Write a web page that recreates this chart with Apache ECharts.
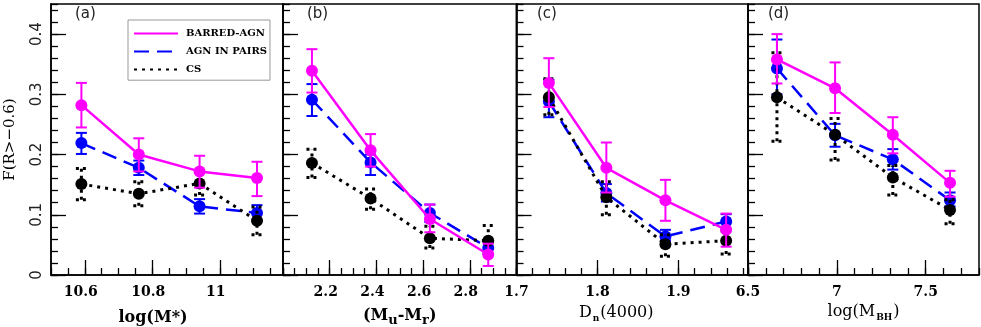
<!DOCTYPE html>
<html><head><meta charset="utf-8">
<script src="https://cdn.jsdelivr.net/npm/echarts@6/dist/echarts.min.js"></script>
<style>html,body{margin:0;padding:0;background:#fff}#c{width:981px;height:327px}</style>
</head><body><div id="c"></div>
<script>
// ---------- data ----------
const seriesNames = ['BARRED-AGN', 'AGN IN PAIRS', 'CS'];
const panelTags = ['(a)', '(b)', '(c)', '(d)'];
const yTickLabels = [0, 0.1, 0.2, 0.3, 0.4];

// (a) log(M*)
const xA = [10.59, 10.76, 10.94, 11.11];
const barredA = [0.282, 0.200, 0.172, 0.161];
const barredA_lo = [0.245, 0.172, 0.145, 0.131];
const barredA_hi = [0.319, 0.227, 0.198, 0.188];
const pairsA = [0.219, 0.178, 0.114, 0.103];
const pairsA_lo = [0.201, 0.166, 0.102, 0.090];
const pairsA_hi = [0.236, 0.190, 0.126, 0.116];
const csA = [0.151, 0.135, 0.152, 0.090];
const csA_lo = [0.125, 0.115, 0.133, 0.067];
const csA_hi = [0.177, 0.155, 0.172, 0.113];
const xTicksA = [10.6, 10.8, 11];

// (b) Mu-Mr
const xB = [2.124, 2.375, 2.629, 2.879];
const barredB = [0.339, 0.207, 0.093, 0.034];
const barredB_lo = [0.303, 0.180, 0.071, 0.015];
const barredB_hi = [0.375, 0.234, 0.117, 0.052];
const pairsB = [0.291, 0.187, 0.103, 0.045];
const pairsB_lo = [0.264, 0.166, 0.088, 0.035];
const pairsB_hi = [0.317, 0.200, 0.117, 0.055];
const csB = [0.186, 0.127, 0.061, 0.057];
const csB_lo = [0.162, 0.109, 0.045, 0.036];
const csB_hi = [0.209, 0.143, 0.081, 0.082];
const xTicksB = [2.2, 2.4, 2.6, 2.8];

// (c) Dn(4000)
const xC = [1.740, 1.811, 1.884, 1.959];
const barredC = [0.319, 0.178, 0.124, 0.075];
const barredC_lo = [0.279, 0.137, 0.090, 0.047];
const barredC_hi = [0.360, 0.220, 0.158, 0.102];
const pairsC = [0.288, 0.136, 0.064, 0.089];
const pairsC_lo = [0.262, 0.122, 0.057, 0.076];
const pairsC_hi = [0.324, 0.151, 0.075, 0.101];
const csC = [0.295, 0.129, 0.051, 0.057];
const csC_lo = [0.266, 0.100, 0.031, 0.035];
const csC_hi = [0.326, 0.155, 0.067, 0.073];
const xTicksC = [1.7, 1.8, 1.9];

// (d) log(MBH)
const xD = [6.663, 6.99, 7.315, 7.637];
const barredD = [0.358, 0.310, 0.233, 0.153];
const barredD_lo = [0.318, 0.269, 0.202, 0.130];
const barredD_hi = [0.400, 0.353, 0.262, 0.173];
const pairsD = [0.343, 0.232, 0.192, 0.124];
const pairsD_lo = [0.300, 0.213, 0.175, 0.114];
const pairsD_hi = [0.391, 0.251, 0.209, 0.137];
const csD = [0.295, 0.233, 0.162, 0.108];
const csD_lo = [0.222, 0.191, 0.133, 0.085];
const csD_hi = [0.369, 0.260, 0.182, 0.125];
const xTicksD = [6.5, 7, 7.5];

// ---------- layout / style ----------
const panels = [
  {x: xA, vals: [barredA, pairsA, csA], lo: [barredA_lo, pairsA_lo, csA_lo], hi: [barredA_hi, pairsA_hi, csA_hi],
   ticks: xTicksA, min: 10.5, max: 11.187, minor: 0.05,
   name: '{m|log(M*)}', gap: 35, namePad: [0, 28, 0, 0], labelPad: [0, 8, 0, 0],
   grid: {left: 51, width: 232}, tagPos: [85, 16]},
  {x: xB, vals: [barredB, pairsB, csB], lo: [barredB_lo, pairsB_lo, csB_lo], hi: [barredB_hi, pairsB_hi, csB_hi],
   ticks: xTicksB, min: 2.0, max: 3.0, minor: 0.05,
   name: '{m|(M}{s|u}{m|-M}{s|r}{m|)}', gap: 33, namePad: [0, 0, 0, 0], labelPad: [0, 8, 0, 0],
   grid: {left: 283, width: 233.5}, tagPos: [317, 16]},
  {x: xC, vals: [barredC, pairsC, csC], lo: [barredC_lo, pairsC_lo, csC_lo], hi: [barredC_hi, pairsC_hi, csC_hi],
   ticks: xTicksC, min: 1.7, max: 1.986, minor: 0.02,
   name: '{n|D}{t|n}{n|(4000)}', gap: 30, namePad: [0, 32, 0, 0], labelPad: [0, 0, 0, 0],
   grid: {left: 516.5, width: 231.5}, tagPos: [547, 16]},
  {x: xD, vals: [barredD, pairsD, csD], lo: [barredD_lo, pairsD_lo, csD_lo], hi: [barredD_hi, pairsD_hi, csD_hi],
   ticks: xTicksD, min: 6.5, max: 7.8, minor: 0.1,
   name: '{n|log(M}{t|BH}{n|)}', gap: 28, namePad: [0, 0, 0, 0], labelPad: [0, 0, 0, 0],
   grid: {left: 748, width: 231}, tagPos: [778, 16]}
];

const colors = ['#ff00ff', '#0000ff', '#000000'];
const lineTypes = ['solid', [15, 8], [3, 5]];
const lineWidths = [2.5, 2.5, 3];
const barDash = [null, null, [3, 4]];
const zOrder = [5, 3, 4];
const serifFont = 'DejaVu Serif';
const Y_MAX = 0.45;

const fmt = v => String(parseFloat(v.toFixed(2)));

const grids = [], xAxes = [], yAxes = [], series = [], graphics = [];
panels.forEach((p, i) => {
  grids.push({left: p.grid.left, width: p.grid.width, top: 4, height: 271,
    outerBoundsMode: 'none', containLabel: false,
    show: true, borderColor: '#000', borderWidth: 1.5, backgroundColor: 'transparent'});
  // minor x axis
  xAxes.push({type: 'value', gridIndex: i, position: 'bottom', min: p.min, max: p.max, interval: p.minor,
    axisLine: {show: true, lineStyle: {color: '#000', width: 1.5}},
    axisTick: {show: true, inside: true, length: 7, lineStyle: {color: '#000', width: 1.3}},
    axisLabel: {show: false}, splitLine: {show: false}});
  // major x axis
  xAxes.push({type: 'value', gridIndex: i, position: 'bottom', min: p.min, max: p.max,
    axisLine: {show: false},
    axisTick: {show: true, inside: true, length: 15, customValues: p.ticks, lineStyle: {color: '#000', width: 1.3}},
    axisLabel: {show: true, customValues: p.ticks, formatter: fmt, margin: 10, padding: p.labelPad,
      fontFamily: serifFont, fontWeight: 'bold', fontSize: 14, color: '#000'},
    splitLine: {show: false},
    name: p.name, nameLocation: 'middle', nameGap: p.gap,
    nameTextStyle: {padding: p.namePad, color: '#000',
      rich: {
        m: {fontFamily: serifFont, fontWeight: 'bold', fontSize: 16, lineHeight: 16, verticalAlign: 'top'},
        s: {fontFamily: serifFont, fontWeight: 'bold', fontSize: 13, lineHeight: 13, padding: [6, 0, 0, 0], verticalAlign: 'top'},
        n: {fontFamily: serifFont, fontSize: 16, lineHeight: 16, verticalAlign: 'top'},
        t: {fontFamily: serifFont, fontWeight: 'bold', fontSize: 9, lineHeight: 9, padding: [9, 1, 0, 1], verticalAlign: 'top'}
      }}});
  // minor y axis
  yAxes.push({type: 'value', gridIndex: i, position: 'left', min: 0, max: Y_MAX, interval: 0.02,
    axisLine: {show: true, lineStyle: {color: '#000', width: 1.5}},
    axisTick: {show: true, inside: true, length: 7, lineStyle: {color: '#000', width: 1.3}},
    axisLabel: {show: false}, splitLine: {show: false}});
  // major y axis
  const ya = {type: 'value', gridIndex: i, position: 'left', min: 0, max: Y_MAX,
    axisLine: {show: false},
    axisTick: {show: true, inside: true, length: 15, customValues: yTickLabels, lineStyle: {color: '#000', width: 1.3}},
    axisLabel: {show: i === 0, customValues: yTickLabels, formatter: fmt, rotate: 90, margin: 6,
      fontFamily: 'DejaVu Sans', fontSize: 15, color: '#222'},
    splitLine: {show: false}};
  if (i === 0) {
    ya.name = 'F(R>\u22120.6)';
    ya.nameLocation = 'middle';
    ya.nameGap = 33;
    ya.nameTextStyle = {fontFamily: serifFont, fontSize: 15, color: '#000'};
  }
  yAxes.push(ya);

  // series
  for (let s = 0; s < 3; s++) {
    const vals = p.vals[s], lo = p.lo[s], hi = p.hi[s];
    series.push({
      type: 'custom', xAxisIndex: 2 * i + 1, yAxisIndex: 2 * i + 1, z: zOrder[s],
      silent: true,
      data: p.x.map((xv, k) => [xv, lo[k], hi[k]]),
      encode: {x: 0, y: [1, 2]},
      renderItem: (params, api) => {
        const xv = api.value(0);
        const a = api.coord([xv, api.value(1)]);
        const b = api.coord([xv, api.value(2)]);
        const hw = 5.5;
        const st = {stroke: colors[s], lineWidth: s === 2 ? 3 : 2, fill: null, lineDash: barDash[s]};
        return {type: 'group', children: [
          {type: 'line', shape: {x1: a[0], y1: a[1], x2: b[0], y2: b[1]}, style: st},
          {type: 'line', shape: {x1: a[0] - hw, y1: a[1], x2: a[0] + hw, y2: a[1]}, style: st},
          {type: 'line', shape: {x1: b[0] - hw, y1: b[1], x2: b[0] + hw, y2: b[1]}, style: st}
        ]};
      }
    });
    series.push({
      type: 'line', name: seriesNames[s], xAxisIndex: 2 * i + 1, yAxisIndex: 2 * i + 1, z: zOrder[s] + 0.5,
      data: p.x.map((xv, k) => [xv, vals[k]]),
      symbol: 'circle', symbolSize: 12, showSymbol: true,
      itemStyle: {color: colors[s]},
      lineStyle: {color: colors[s], width: lineWidths[s], type: lineTypes[s]},
      animation: false, silent: true
    });
  }
  graphics.push({type: 'text', left: p.tagPos[0] - 10, top: p.tagPos[1] - 9,
    style: {text: panelTags[i], fontFamily: 'DejaVu Sans', fontSize: 15, fill: '#222'}});
});

const option = {
  animation: false,
  grid: grids, xAxis: xAxes, yAxis: yAxes, series: series,
  legend: {
    data: seriesNames, orient: 'vertical', left: 128, top: 20,
    itemWidth: 44, itemHeight: 14, itemGap: 6.8,
    padding: [8, 3, 5, 5],
    borderColor: '#999', borderWidth: 1, backgroundColor: '#fff',
    itemStyle: {opacity: 0},
    textStyle: {fontFamily: serifFont, fontWeight: 'bold', fontSize: 10, color: '#000', padding: [0, 0, 0, 3]},
    selectedMode: false
  },
  graphic: graphics
};
const chart = echarts.init(document.getElementById('c'));
chart.setOption(option);
</script>
</body></html>
